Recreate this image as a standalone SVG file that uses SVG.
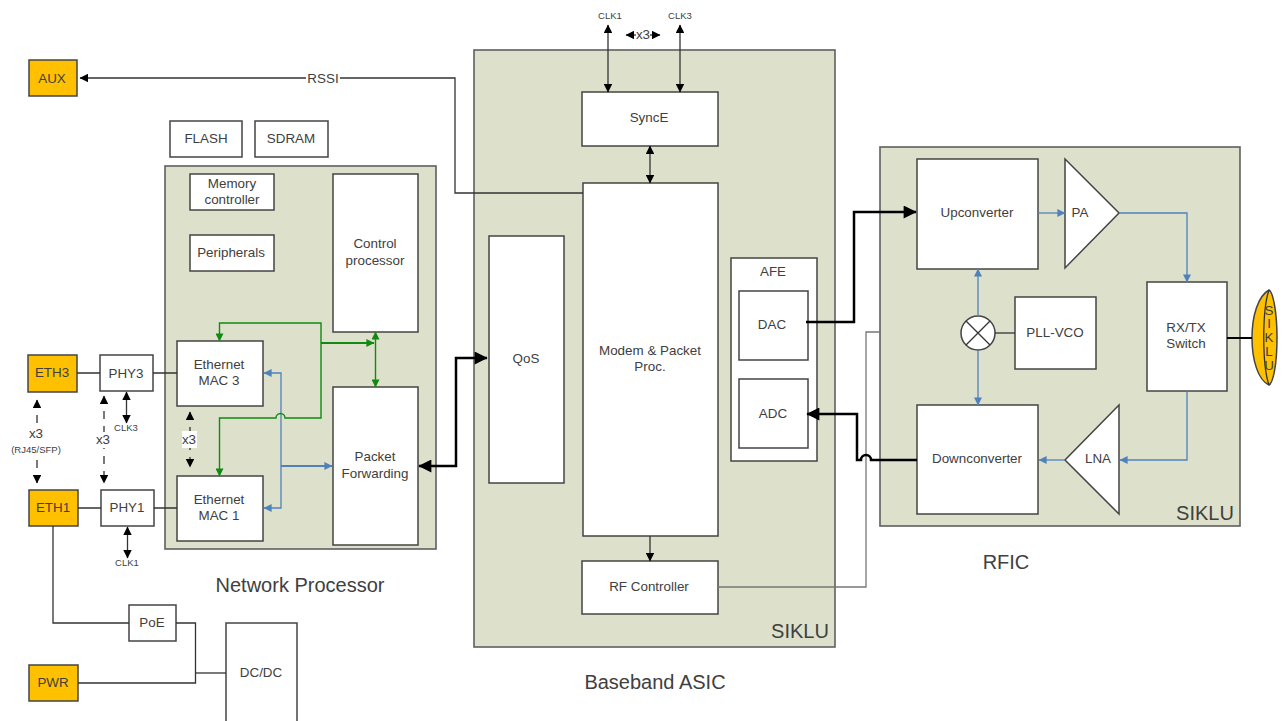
<svg xmlns="http://www.w3.org/2000/svg" width="1285" height="721" viewBox="0 0 1285 721">
<style>
text{font-family:"Liberation Sans",Arial,sans-serif;fill:#404040;text-anchor:middle}
.t{font-size:13.4px}.s{font-size:9.5px}.l{font-size:20px}
.panel{fill:#dde1cb;stroke:#5f5f5f;stroke-width:1.6}
.box{fill:#fff;stroke:#444;stroke-width:1.5}
.or{fill:#ffc000;stroke:#444;stroke-width:1.5}
.k{fill:none;stroke:#333;stroke-width:1.3}
.g{fill:none;stroke:#777;stroke-width:1.3}
.h{fill:none;stroke:#000;stroke-width:2.5}
.b{fill:none;stroke:#4f81bd;stroke-width:1.3}
.gr{fill:none;stroke:#118a11;stroke-width:1.4}
.d{stroke-dasharray:8 7}
</style>
<defs>
<marker id="ak" viewBox="0 0 10 10" refX="9.5" refY="5" markerWidth="9" markerHeight="8.5" markerUnits="userSpaceOnUse" orient="auto-start-reverse"><path d="M0 0L10 5L0 10z" fill="#000"/></marker>
<marker id="ah" viewBox="0 0 10 10" refX="9.5" refY="5" markerWidth="18" markerHeight="13" markerUnits="userSpaceOnUse" orient="auto-start-reverse"><path d="M0 0L10 5L0 10z" fill="#000"/></marker>
<marker id="ab" viewBox="0 0 10 10" refX="9.5" refY="5" markerWidth="9" markerHeight="8" markerUnits="userSpaceOnUse" orient="auto-start-reverse"><path d="M0 0L10 5L0 10z" fill="#4f81bd"/></marker>
<marker id="ag" viewBox="0 0 10 10" refX="9.5" refY="5" markerWidth="9" markerHeight="8" markerUnits="userSpaceOnUse" orient="auto-start-reverse"><path d="M0 0L10 5L0 10z" fill="#118a11"/></marker>
</defs>
<g id="panels">
<rect class="panel" x="165" y="166" width="271" height="383"/>
<rect class="panel" x="474" y="50" width="361" height="597"/>
<rect class="panel" x="880" y="147" width="360" height="379"/>
</g>
<g id="aux"><rect class="or" x="29" y="60" width="48" height="36"/><text class="t" x="52" y="83">AUX</text></g>
<g id="flash"><rect class="box" x="170" y="121" width="72" height="36"/><text class="t" x="206" y="143">FLASH</text></g>
<g id="sdram"><rect class="box" x="255" y="121" width="73" height="36"/><text class="t" x="291" y="143">SDRAM</text></g>
<g id="memctl"><rect class="box" x="190" y="174" width="84" height="36"/><text class="t" x="232" y="188">Memory</text><text class="t" x="232" y="204">controller</text></g>
<g id="periph"><rect class="box" x="190" y="235" width="84" height="36"/><text class="t" x="231" y="257">Peripherals</text></g>
<g id="ctrl"><rect class="box" x="333" y="174" width="85" height="158"/><text class="t" x="375" y="248">Control</text><text class="t" x="375" y="265">processor</text></g>
<g id="mac3"><rect class="box" x="177" y="341" width="86" height="65"/><text class="t" x="219" y="369">Ethernet</text><text class="t" x="219" y="385">MAC 3</text></g>
<g id="mac1"><rect class="box" x="177" y="476" width="86" height="65"/><text class="t" x="219" y="504">Ethernet</text><text class="t" x="219" y="520">MAC 1</text></g>
<g id="pf"><rect class="box" x="333" y="387" width="85" height="158"/><text class="t" x="375" y="461">Packet</text><text class="t" x="375" y="478">Forwarding</text></g>
<g id="eth3"><rect class="or" x="28" y="355" width="49" height="37"/><text class="t" x="52" y="377">ETH3</text></g>
<g id="eth1"><rect class="or" x="29" y="490" width="49" height="36"/><text class="t" x="53" y="512">ETH1</text></g>
<g id="phy3"><rect class="box" x="100" y="355" width="53" height="36"/><text class="t" x="126" y="378">PHY3</text></g>
<g id="phy1"><rect class="box" x="101" y="490" width="53" height="36"/><text class="t" x="127" y="512">PHY1</text></g>
<g id="syncE"><rect class="box" x="582" y="92" width="136" height="54"/><text class="t" x="649" y="122">SyncE</text></g>
<g id="qos"><rect class="box" x="489" y="236" width="75" height="247"/><text class="t" x="526" y="363">QoS</text></g>
<g id="modem"><rect class="box" x="583" y="183" width="135" height="353"/><text class="t" x="650" y="355">Modem &amp; Packet</text><text class="t" x="650" y="371">Proc.</text></g>
<g id="rfctl"><rect class="box" x="582" y="561" width="136" height="53"/><text class="t" x="649" y="591">RF Controller</text></g>
<g id="afe"><rect class="box" x="731" y="258" width="86" height="203"/><text class="t" x="773" y="276">AFE</text></g>
<g id="dac"><rect class="box" x="739" y="291" width="69" height="69"/><text class="t" x="772" y="329">DAC</text></g>
<g id="adc"><rect class="box" x="739" y="379" width="69" height="69"/><text class="t" x="773" y="418">ADC</text></g>
<g id="up"><rect class="box" x="917" y="159" width="121" height="110"/><text class="t" x="977" y="217">Upconverter</text></g>
<g id="down"><rect class="box" x="917" y="405" width="121" height="109"/><text class="t" x="977" y="463">Downconverter</text></g>
<g id="pa"><path class="box" d="M1065 159L1119 213L1065 268z"/><text class="t" x="1080" y="217">PA</text></g>
<g id="lna"><path class="box" d="M1119 405L1065 460L1119 514z"/><text class="t" x="1098" y="463">LNA</text></g>
<g id="mixer"><circle class="box" cx="978" cy="333" r="17"/><path class="k" d="M966 321L990 345M990 321L966 345"/></g>
<g id="pll"><rect class="box" x="1015" y="297" width="81" height="72"/><text class="t" x="1055" y="337">PLL-VCO</text></g>
<g id="sw"><rect class="box" x="1147" y="282" width="80" height="109"/><text class="t" x="1186" y="332">RX/TX</text><text class="t" x="1186" y="348">Switch</text></g>
<g id="ant"><path class="or" d="M1269 290C1258 296 1252 316 1252 338C1252 360 1258 380 1269 385C1273 383 1277 365 1277 338C1277 312 1273 292 1269 290z"/><path class="k" d="M1269 290C1262 310 1262 365 1269 385"/><g class="t"><text x="1269" y="315">S</text><text x="1269" y="328">I</text><text x="1269" y="342">K</text><text x="1269" y="356">L</text><text x="1269" y="370">U</text></g></g>
<g id="dcdc"><rect class="box" x="226" y="623" width="71" height="110"/><text class="t" x="261" y="677">DC/DC</text></g>
<g id="poe"><rect class="box" x="129" y="605" width="47" height="36"/><text class="t" x="152" y="627">PoE</text></g>
<g id="pwr"><rect class="or" x="29" y="665" width="49" height="36"/><text class="t" x="53" y="687">PWR</text></g>
<g id="connectors">
<path class="k" d="M583 193H455V78H340M306 78H80" marker-end="url(#ak)"/>
<path class="k" d="M608 25V92" marker-start="url(#ak)" marker-end="url(#ak)"/>
<path class="k" d="M680 25V92" marker-start="url(#ak)" marker-end="url(#ak)"/>
<path class="k" d="M650 146V183" marker-start="url(#ak)" marker-end="url(#ak)"/>
<path class="k" d="M650 536V561" marker-end="url(#ak)"/>
<path class="h" d="M419 466H456V358H487" marker-start="url(#ah)" marker-end="url(#ah)"/>
<path class="g" d="M718 587H866V332H880"/>
<path class="h" d="M806 322H854V212H916" marker-end="url(#ah)"/>
<path class="h" d="M917 460H871a5 5 0 0 0 -10 0H857V414H807" marker-end="url(#ah)"/>
<path class="b" d="M1038 213H1065" marker-end="url(#ab)"/>
<path class="b" d="M1119 213H1187V282" marker-end="url(#ab)"/>
<path class="b" d="M1187 391V460H1120" marker-end="url(#ab)"/>
<path class="b" d="M1065 460H1039" marker-end="url(#ab)"/>
<path class="b" d="M978 316V269" marker-end="url(#ab)"/>
<path class="b" d="M978 350V405" marker-end="url(#ab)"/>
<path class="k" d="M995 333H1015"/>
<path class="h" style="stroke-width:2" d="M1227 338H1252"/>
<path class="b" d="M281 466V373H264" marker-end="url(#ab)"/>
<path class="b" d="M281 466V508H264" marker-end="url(#ab)"/>
<path class="b" style="stroke-width:2" d="M281 466H332" marker-end="url(#ab)"/>
<path class="gr" d="M321 344V323H219.500V341" marker-end="url(#ag)"/>
<path class="gr" d="M321 344V418H285a4.500 4.500 0 0 0 -9 0H219.500V476" marker-end="url(#ag)"/>
<path class="gr" style="stroke-width:1.8" d="M321 343H374" marker-end="url(#ag)"/>
<path class="gr" d="M375.500 332V387" marker-start="url(#ag)" marker-end="url(#ag)"/>
<path class="k" d="M77 373H100M153 373H177M78 508H101M154 508H177"/>
<path class="k" d="M126.500 392V423" marker-start="url(#ak)" marker-end="url(#ak)"/>
<path class="k" d="M127.500 527V558" marker-start="url(#ak)" marker-end="url(#ak)"/>
<path class="k d" d="M37 400V483" marker-start="url(#ak)" marker-end="url(#ak)"/>
<path class="k d" d="M104 396V483" marker-start="url(#ak)" marker-end="url(#ak)"/>
<path class="k d" d="M190 412V467" marker-start="url(#ak)" marker-end="url(#ak)"/>
<path class="k" d="M53 526V623H129"/>
<path class="k" d="M176 623H195.500V683H78"/>
<path class="k" d="M195.500 673H226"/>
<path class="k" d="M636 35H626" marker-end="url(#ak)"/>
<path class="k" d="M650 35H660" marker-end="url(#ak)"/>
</g>
<g id="notes">
<text class="t" x="323" y="83">RSSI</text>
<text class="s" x="126" y="431">CLK3</text><text class="s" x="127" y="566">CLK1</text>
<rect x="24" y="425" width="24" height="30" fill="#fff"/><text class="t" x="36" y="438">x3</text>
<text class="s" x="36" y="453">(RJ45/SFP)</text>
<rect x="94" y="432" width="20" height="16" fill="#fff"/><text class="t" x="103" y="444">x3</text>
<rect x="182" y="431" width="15" height="17" fill="#fff"/><text class="t" x="189" y="444">x3</text>
<text class="s" x="610" y="19">CLK1</text><text class="s" x="680" y="19">CLK3</text>
<text class="t" x="643" y="39">x3</text>
</g>
<g id="labels">
<text class="l" x="300" y="592">Network Processor</text>
<text class="l" x="655" y="689">Baseband ASIC</text>
<text class="l" x="1006" y="569">RFIC</text>
<text class="l" x="800" y="638">SIKLU</text>
<text class="l" x="1205" y="520">SIKLU</text>
</g>
</svg>
